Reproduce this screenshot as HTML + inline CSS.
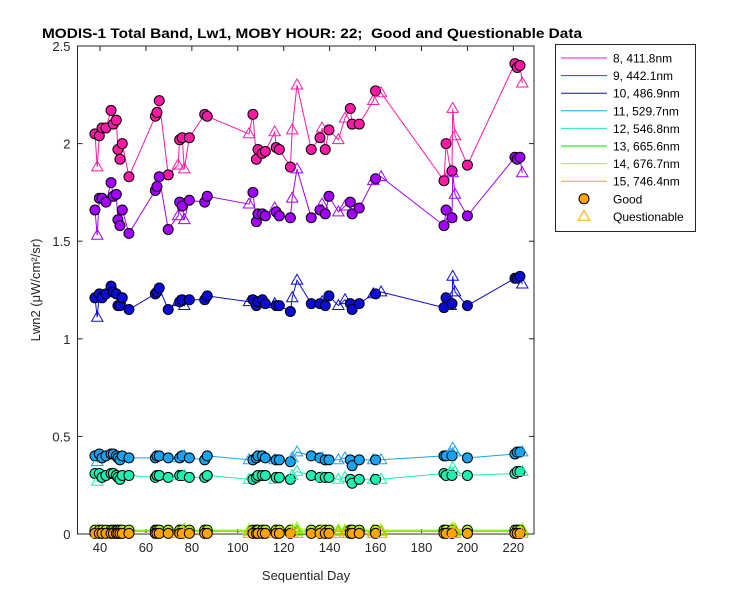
<!DOCTYPE html>
<html><head><meta charset="utf-8"><style>
body{margin:0;background:#fff;font-family:"Liberation Sans",Arial,sans-serif}
svg text{font-family:"Liberation Sans",Arial,sans-serif}
</style></head><body>
<svg id="chart" width="750" height="600" xmlns="http://www.w3.org/2000/svg">
<rect x="0" y="0" width="750" height="600" fill="#fff"/>
<text x="42" y="38" textLength="540" lengthAdjust="spacingAndGlyphs" font-size="14" font-weight="bold" fill="#000" xml:space="preserve">MODIS-1 Total Band, Lw1, MOBY HOUR: 22;  Good and Questionable Data</text>
<g id="plot"></g>
<text x="306" y="580" text-anchor="middle" font-size="13" fill="#262626">Sequential Day</text>
<text transform="translate(40,290) rotate(-90)" text-anchor="middle" font-size="13" fill="#262626">Lwn2 (μW/cm²/sr)</text>
<g id="legend"></g>
</svg>
<script>
const days=[37.8,38.8,39.7,40.9,42.6,44.8,45.8,47.1,47.8,48.7,49.7,52.6,64.1,64.8,65.8,69.7,74.0,74.7,75.8,76.7,78.9,85.6,86.7,104.9,106.6,108.1,108.8,110.7,112,116.1,116.7,118.1,122.9,123.7,125.8,132,135.8,136.7,138.1,139.7,143.8,146.7,149,149.8,152.9,159,160,162.4,189.8,190.7,192.7,193.3,193.6,194.6,200,220.7,221.7,222.9,223.9];
const quest=[0,1,0,0,0,0,0,0,0,0,0,0,0,0,0,0,1,0,0,1,0,0,0,1,0,0,0,0,0,1,0,0,0,1,1,0,0,1,0,0,1,1,0,0,0,1,0,1,0,0,1,0,1,1,0,0,0,0,1];
const band8=[2.05,1.88,2.04,2.08,2.08,2.17,2.10,2.12,1.97,1.92,2.00,1.83,2.14,2.16,2.22,1.84,1.89,2.02,2.03,1.87,2.03,2.15,2.14,2.05,2.15,1.92,1.97,1.95,1.96,2.06,1.98,1.97,1.88,2.07,2.30,1.97,2.03,2.08,1.97,2.07,2.02,2.13,2.18,2.10,2.10,2.22,2.27,2.26,1.81,2.00,1.86,1.86,2.18,2.04,1.89,2.41,2.39,2.40,2.31];
const band9=[1.66,1.53,1.72,1.72,1.70,1.80,1.73,1.74,1.61,1.58,1.66,1.54,1.76,1.78,1.83,1.56,1.63,1.70,1.68,1.61,1.71,1.70,1.73,1.69,1.75,1.60,1.64,1.64,1.63,1.67,1.65,1.63,1.62,1.72,1.87,1.62,1.66,1.69,1.64,1.73,1.65,1.68,1.70,1.64,1.67,1.81,1.82,1.83,1.58,1.66,1.62,1.62,1.85,1.74,1.63,1.93,1.92,1.93,1.85];
const band10=[1.21,1.11,1.23,1.21,1.23,1.27,1.24,1.23,1.17,1.17,1.21,1.15,1.23,1.24,1.26,1.15,1.19,1.19,1.20,1.17,1.20,1.20,1.22,1.19,1.20,1.17,1.19,1.20,1.18,1.18,1.17,1.17,1.14,1.21,1.30,1.18,1.18,1.19,1.17,1.22,1.17,1.20,1.18,1.15,1.18,1.23,1.23,1.24,1.16,1.21,1.17,1.18,1.32,1.24,1.17,1.31,1.31,1.32,1.28];
const band11=[0.40,0.37,0.41,0.39,0.40,0.41,0.41,0.40,0.39,0.38,0.40,0.39,0.39,0.40,0.40,0.39,0.39,0.39,0.40,0.40,0.39,0.38,0.40,0.38,0.38,0.39,0.40,0.40,0.39,0.38,0.38,0.38,0.37,0.39,0.42,0.40,0.39,0.39,0.38,0.38,0.38,0.39,0.38,0.35,0.38,0.38,0.38,0.38,0.40,0.40,0.41,0.40,0.44,0.42,0.39,0.41,0.42,0.42,0.42];
const band12=[0.31,0.27,0.31,0.29,0.30,0.31,0.31,0.30,0.29,0.28,0.30,0.30,0.29,0.30,0.30,0.29,0.30,0.30,0.30,0.30,0.29,0.29,0.30,0.28,0.28,0.29,0.30,0.30,0.30,0.28,0.29,0.29,0.28,0.30,0.32,0.30,0.29,0.29,0.29,0.29,0.28,0.29,0.28,0.26,0.28,0.28,0.28,0.28,0.31,0.30,0.31,0.30,0.34,0.32,0.30,0.31,0.32,0.32,0.32];
const band13=days.map(()=>0.015);
const band14=[0.02,0.02,0.02,0.02,0.02,0.02,0.02,0.02,0.02,0.02,0.02,0.02,0.02,0.02,0.02,0.02,0.02,0.02,0.02,0.025,0.02,0.02,0.02,0.02,0.02,0.02,0.02,0.02,0.02,0.02,0.02,0.02,0.02,0.02,0.03,0.02,0.02,0.02,0.02,0.02,0.02,0.02,0.02,0.02,0.02,0.02,0.02,0.02,0.02,0.02,0.02,0.02,0.03,0.025,0.02,0.02,0.02,0.02,0.025];
const band15=days.map(()=>0.003);
const bandNames=["8, 411.8nm","9, 442.1nm","10, 486.9nm","11, 529.7nm","12, 546.8nm","13, 665.6nm","14, 676.7nm","15, 746.4nm"];
const bandColors=["#ff1aa6","#a300ff","#0b0bd6","#1aa3f0","#1df0b0","#00e600","#a6f500","#ffa500"];
const xTicks=[40,60,80,100,120,140,160,180,200,220];
const yTicks=[0,0.5,1,1.5,2,2.5];
const yTickLabels=["0","0.5","1","1.5","2","2.5"];
const allBands=[band8,band9,band10,band11,band12,band13,band14,band15];

const NS="http://www.w3.org/2000/svg";
const L=77.5,R=534,T=46,B=534,XMIN=30.2,XMAX=229,YMIN=0,YMAX=2.5;
const sx=d=>L+(d-XMIN)/(XMAX-XMIN)*(R-L);
const sy=v=>B-(v-YMIN)/(YMAX-YMIN)*(B-T);
function mk(tag,attrs,parent){const e=document.createElementNS(NS,tag);for(const k in attrs)e.setAttribute(k,attrs[k]);parent.appendChild(e);return e;}
const plot=document.getElementById('plot');
const box=mk('rect',{x:L,y:T,width:R-L,height:B-T,fill:'none',stroke:'#262626','stroke-width':1},plot);


xTicks.forEach(t=>{
  const x=sx(t);
  const g=mk('g',{},plot);
  
  
  mk('line',{x1:x,y1:B,x2:x,y2:B-5,stroke:'#262626'},g);
  mk('line',{x1:x,y1:T,x2:x,y2:T+5,stroke:'#262626'},g);
  const tx=mk('text',{x:x,y:B+18,'text-anchor':'middle','font-size':13,fill:'#262626'},g);
  tx.textContent=t;
});
yTicks.forEach((t,i)=>{
  const y=sy(t);
  const g=mk('g',{},plot);
  
  
  mk('line',{x1:L,y1:y,x2:L+5,y2:y,stroke:'#262626'},g);
  mk('line',{x1:R,y1:y,x2:R-5,y2:y,stroke:'#262626'},g);
  const tx=mk('text',{x:L-7,y:y+5,'text-anchor':'end','font-size':13,fill:'#262626'},g);
  tx.textContent=yTickLabels[i];
});
function tri(cx,cy,s){return `${cx},${cy-s} ${cx-s*0.95},${cy+s*0.65} ${cx+s*0.95},${cy+s*0.65}`;}
allBands.forEach((vals,b)=>{
  const g=mk('g',{},plot);
  
  
  const pts=days.map((d,i)=>sx(d).toFixed(1)+','+sy(vals[i]).toFixed(1)).join(' ');
  const ln=mk('polyline',{points:pts,fill:'none',stroke:bandColors[b],'stroke-width':1},g);
  
  
  days.forEach((d,i)=>{
    const x=sx(d),y=sy(vals[i]);
    let m;
    if(quest[i]){
      m=mk('polygon',{points:tri(x,y,6),fill:'none',stroke:bandColors[b],'stroke-width':1},g);
      
    }else{
      m=mk('circle',{cx:x,cy:y,r:5,fill:bandColors[b],stroke:'#000','stroke-width':1},g);
      
    }
    
  });
});
const lg=document.getElementById('legend');
const lb=mk('rect',{x:555.5,y:44.5,width:140,height:187,fill:'#fff',stroke:'#262626','stroke-width':1},lg);


bandNames.forEach((n,i)=>{
  const y=58+i*17.6;
  const g=mk('g',{},lg);
  
  
  mk('line',{x1:561,y1:y,x2:607,y2:y,stroke:bandColors[i],'stroke-width':1},g);
  const t=mk('text',{x:613,y:y+4.5,'font-size':12,fill:'#000'},g);
  t.textContent=n;
});
{
  const y=58+8*17.6;
  const g=mk('g',{},lg);
  
  
  mk('circle',{cx:584,cy:y,r:5,fill:'#ffa500',stroke:'#000'},g);
  const t=mk('text',{x:613,y:y+4.5,'font-size':12,fill:'#000'},g);t.textContent='Good';
  const y2=y+17.6;
  const g2=mk('g',{},lg);
  
  
  mk('polygon',{points:tri(584,y2,6),fill:'none',stroke:'#ffa500'},g2);
  const t2=mk('text',{x:613,y:y2+4.5,'font-size':12,fill:'#000'},g2);t2.textContent='Questionable';
}
</script>
</body></html>
